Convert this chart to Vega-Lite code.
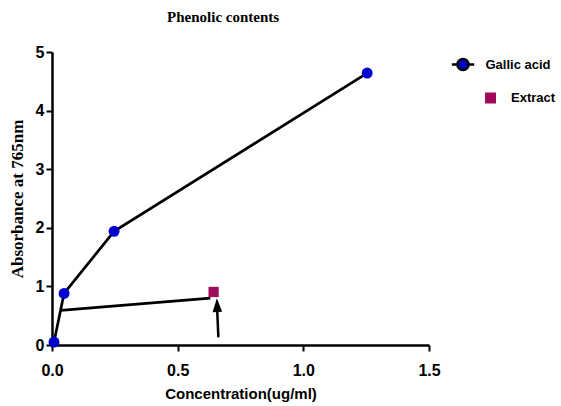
{
  "$schema": "https://vega.github.io/schema/vega-lite/v6.json",
  "autosize": {"type": "none"},
  "padding": {"left": 52, "top": 52, "right": 132, "bottom": 61},
  "width": 377,
  "height": 293,
  "background": "white",
  "title": {
    "text": "Phenolic contents",
    "font": "Liberation Serif",
    "fontSize": 15,
    "fontWeight": "bold",
    "color": "black",
    "anchor": "start",
    "dx": 159,
    "offset": 19
  },
  "config": {
    "view": {"stroke": null},
    "axis": {
      "grid": false,
      "labelFlush": false,
      "domainColor": "black",
      "domainWidth": 2.5,
      "tickColor": "black",
      "tickWidth": 2,
      "tickSize": 6,
      "labelFont": "Liberation Sans",
      "labelFontWeight": "bold",
      "labelFontSize": 16,
      "labelColor": "black",
      "titleColor": "black"
    },
    "legend": {"padding": 0}
  },
  "datasets": {
    "gallic": [
      {"conc": 0.008, "abs": 0.05, "series": "Gallic acid"},
      {"conc": 0.048, "abs": 0.88, "series": "Gallic acid"},
      {"conc": 0.247, "abs": 1.94, "series": "Gallic acid"},
      {"conc": 1.254, "abs": 4.64, "series": "Gallic acid"}
    ],
    "extract": [
      {"conc": 0.643, "abs": 0.905, "sample": "Extract"}
    ],
    "guide": [
      {"conc": 0.035, "abs": 0.59},
      {"conc": 0.63, "abs": 0.80}
    ],
    "arrow": [
      {"conc": 0.662, "abs": 0.13, "conc2": 0.657, "abs2": 0.62}
    ],
    "arrowhead": [
      {"conc": 0.657, "abs": 0.68}
    ]
  },
  "layer": [
    {
      "data": {"name": "gallic"},
      "mark": {"type": "line", "strokeWidth": 2.7},
      "encoding": {
        "x": {
          "field": "conc", "type": "quantitative",
          "scale": {"domain": [0, 1.5], "nice": false},
          "axis": {
            "values": [0, 0.5, 1, 1.5], "format": ".1f",
            "title": "Concentration(ug/ml)",
            "titleFont": "Liberation Sans", "titleFontWeight": "bold", "titleFontSize": 15,
            "labelPadding": 11, "titlePadding": 8
          }
        },
        "y": {
          "field": "abs", "type": "quantitative",
          "scale": {"domain": [0, 5], "nice": false},
          "axis": {
            "values": [0, 1, 2, 3, 4, 5], "format": "d",
            "title": "Absorbance at 765nm",
            "titleFont": "Liberation Serif", "titleFontWeight": "bold", "titleFontSize": 17,
            "labelPadding": 2, "titlePadding": 9
          }
        },
        "stroke": {
          "field": "series", "type": "nominal",
          "scale": {"domain": ["Gallic acid"], "range": ["black"]},
          "legend": {
            "title": null,
            "orient": "none",
            "legendX": 398.5,
            "legendY": 0,
            "symbolType": "M-1,0H-0.5M0.5,0H1M-0.5,0A0.5,0.5 0 1,1 0.5,0A0.5,0.5 0 1,1 -0.5,0Z",
            "symbolSize": 500,
            "symbolStrokeWidth": 2.5,
            "symbolFillColor": "#0000CC",
            "labelFont": "Liberation Sans",
            "labelFontWeight": "bold",
            "labelFontSize": 13,
            "labelColor": "black",
            "labelOffset": 10,
            "encode": {"symbols": {"update": {"fill": {"value": "#0000CC"}, "stroke": {"value": "black"}}}}
          }
        }
      }
    },
    {
      "data": {"name": "gallic"},
      "mark": {"type": "point", "filled": true, "shape": "circle", "size": 120, "color": "#0000CC", "opacity": 1},
      "encoding": {
        "x": {"field": "conc", "type": "quantitative"},
        "y": {"field": "abs", "type": "quantitative"}
      }
    },
    {
      "data": {"name": "guide"},
      "mark": {"type": "line", "strokeWidth": 2.7, "color": "black"},
      "encoding": {
        "x": {"field": "conc", "type": "quantitative"},
        "y": {"field": "abs", "type": "quantitative"}
      }
    },
    {
      "data": {"name": "extract"},
      "mark": {"type": "point", "filled": true, "shape": "square", "size": 105, "opacity": 1},
      "encoding": {
        "x": {"field": "conc", "type": "quantitative"},
        "y": {"field": "abs", "type": "quantitative"},
        "fill": {
          "field": "sample", "type": "nominal",
          "scale": {"domain": ["Extract"], "range": ["#9E0B5A"]},
          "legend": {
            "title": null,
            "orient": "none",
            "legendX": 432,
            "legendY": 39.5,
            "symbolType": "square",
            "symbolSize": 121,
            "symbolStrokeWidth": 0,
            "labelFont": "Liberation Sans",
            "labelFontWeight": "bold",
            "labelFontSize": 13,
            "labelColor": "black",
            "labelOffset": 14
          }
        }
      }
    },
    {
      "data": {"name": "arrow"},
      "mark": {"type": "rule", "strokeWidth": 2.5, "color": "black"},
      "encoding": {
        "x": {"field": "conc", "type": "quantitative"},
        "y": {"field": "abs", "type": "quantitative"},
        "x2": {"field": "conc2"},
        "y2": {"field": "abs2"}
      }
    },
    {
      "data": {"name": "arrowhead"},
      "mark": {"type": "point", "filled": true, "shape": "M0,-1L0.7,1L-0.7,1Z", "size": 190, "color": "black", "opacity": 1, "angle": -2},
      "encoding": {
        "x": {"field": "conc", "type": "quantitative"},
        "y": {"field": "abs", "type": "quantitative"}
      }
    }
  ]
}
